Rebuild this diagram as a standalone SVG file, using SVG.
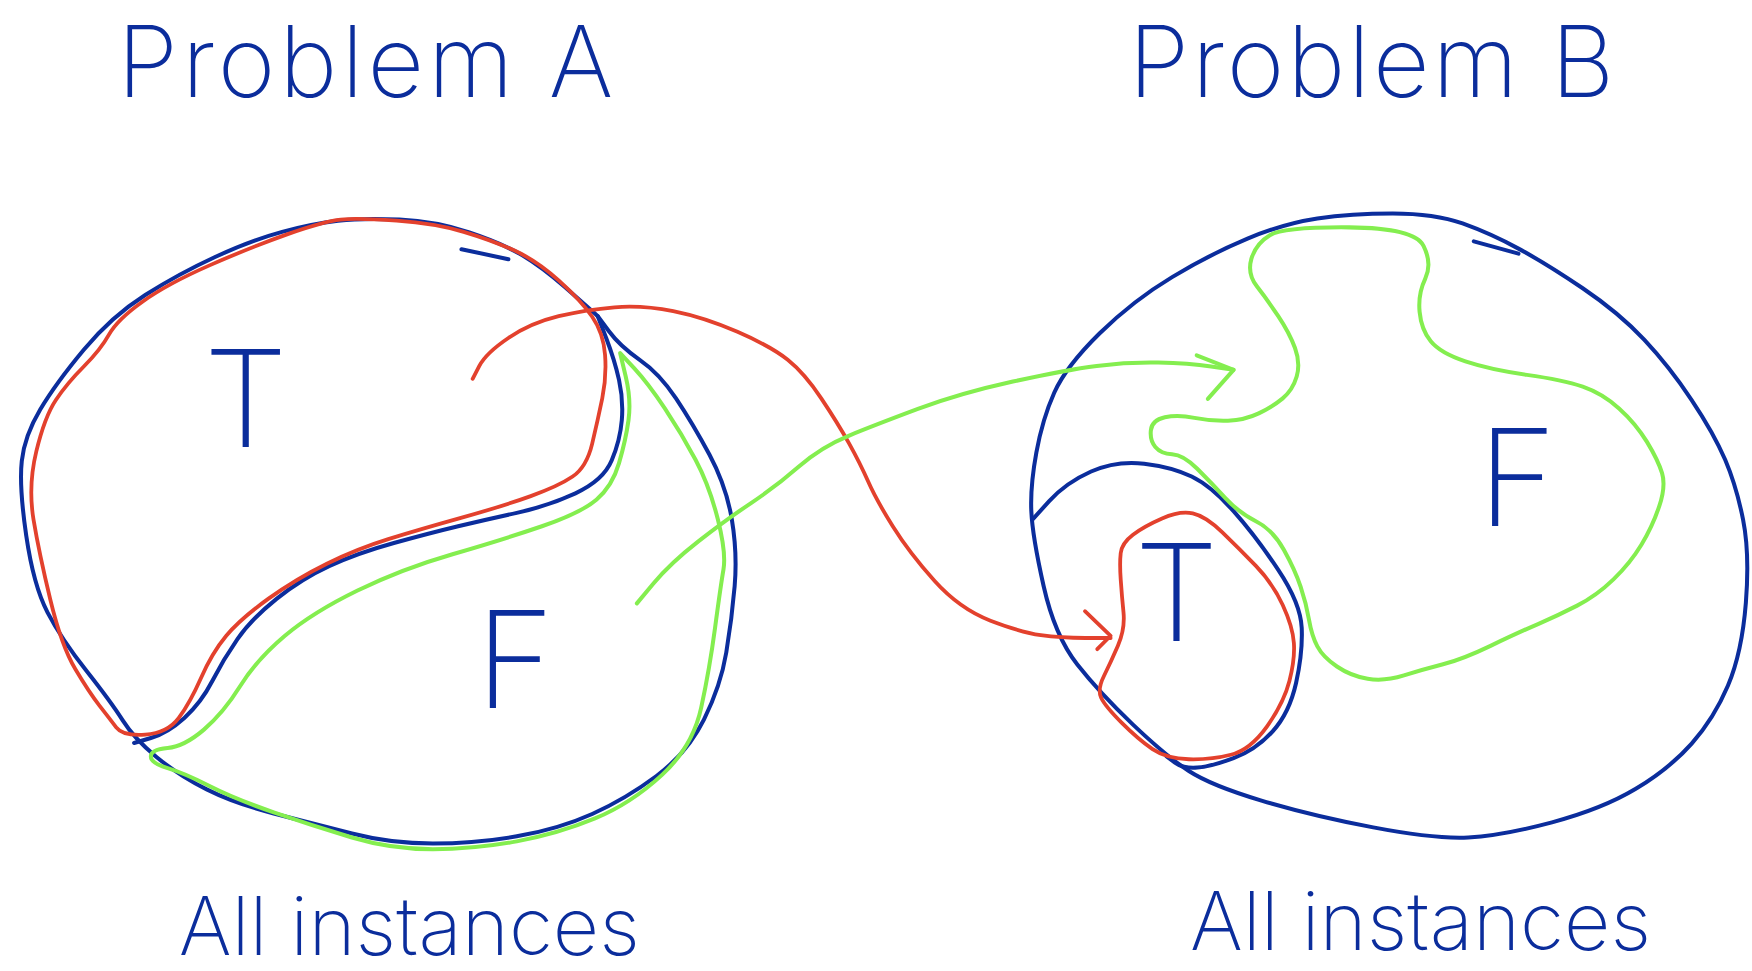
<svg xmlns="http://www.w3.org/2000/svg" width="1752" height="971" viewBox="0 0 1752 971">
<style>
.b{fill:none;stroke:#0b2d9c;stroke-width:3.6;stroke-linejoin:round;stroke-linecap:round}
.r{fill:none;stroke:#e3412d;stroke-width:3.4;stroke-linejoin:round;stroke-linecap:round}
.g{fill:none;stroke:#84ee4f;stroke-width:3.6;stroke-linejoin:round;stroke-linecap:round}
.t{fill:#0b2d9c;font-family:Inter,"Liberation Sans",sans-serif;font-weight:200}
</style>
<rect width="1752" height="971" fill="#fff"/>
<g transform="scale(1.11735)">
<g id="titleA"><text class="t" x="105" y="87" font-size="88" letter-spacing="3.5">Problem A</text></g>
<g id="titleB"><text class="t" x="1010" y="87" font-size="88" letter-spacing="2.5">Problem B</text></g>
<g id="setA">
<path class="b" d="M535,283 L545,296.5 Q555,310 572.5,322 Q590,334 605,356.5 Q620,379 635,407 Q650,435 655,465 Q660,495 657.5,524.5 Q655,554 650,584 Q645,614 630,644 Q615,674 587.5,694.5 Q560,715 530,728.5 Q500,742 462.5,748.5 Q425,755 387.5,755 Q350,755 315,746 Q280,737 245,728 Q210,719 185,706.5 Q160,694 140,677.5 Q120,661 110,645 Q100,629 77.5,600.5 Q55,572 42.5,548 Q30,524 23.5,479.5 Q17,435 19.5,412.5 Q22,390 36,366.5 Q50,343 75,313 Q100,283 130,264 Q160,245 192.5,230 Q225,215 252.5,207.5 Q280,200 302.5,197.5 Q325,195 357.5,196.5 Q390,198 420,208 Q450,218 467.5,228.5 Q485,239 505,256.5 Q525,274 535,283"/>
<path class="b" d="M535,283 L542.5,302.5 Q550,322 554,340 Q558,358 556.5,376 Q555,394 547.5,412 Q540,430 515,441.5 Q490,453 462.5,459 Q435,465 410,471 Q385,477 352.5,486 Q320,495 295,506.5 Q270,518 247.5,536 Q225,554 212.5,572 Q200,590 190,609.5 Q180,629 165,642.5 Q150,656 135,660.5 L120,665"/>
<path class="b" d="M413,223 L455,232"/>
<text class="t" x="160" y="855" font-size="72">All instances</text>
</g>
<g id="trueA">
<path class="r" d="M539,356.5 Q543,337 541.5,317.5 Q540,298 530,283.5 Q520,269 500,251 Q480,233 460,224 Q440,215 415,207.5 Q390,200 355,197.5 Q320,195 305,196.5 Q290,198 257.5,209.5 Q225,221 187.5,237.5 Q150,254 127.5,270 Q105,286 97.5,299.5 Q90,313 75,328 Q60,343 50,358 Q40,373 32.5,404 Q25,435 30,465 Q35,495 45,536.5 Q55,578 67.5,599 Q80,620 89,631.5 Q98,643 104,651 Q110,659 130,657.5 Q150,656 160,642.5 Q170,629 180,606.5 Q190,584 202.5,569 Q215,554 240,536 Q265,518 292.5,504.5 Q320,491 347.5,482.5 Q375,474 412.5,463.5 Q450,453 475,444 Q500,435 512.5,426.5 Q525,418 530,397 Q535,376 539,356.5 Z"/>
<text class="t" x="220" y="400" font-size="120" text-anchor="middle">T</text>
</g>
<g id="falseA">
<path class="g" d="M555,316 L560,337 Q565,358 562.5,376 Q560,394 554,414.5 Q548,435 534,447 Q520,459 485,471 Q450,483 405,496 Q360,509 320,528.5 Q280,548 255,569 Q230,590 215,614 Q200,638 182.5,653 Q165,668 150,669.5 Q135,671 135,677 Q135,683 150,687.5 Q165,692 187.5,703.5 Q210,715 245,727 Q280,739 315,749.5 Q350,760 387.5,760 Q425,760 462.5,753 Q500,746 532.5,732.5 Q565,719 592.5,693.5 Q620,668 627.5,633.5 Q635,599 640,561.5 Q645,524 647.5,509.5 Q650,495 642.5,465 Q635,435 622.5,411.5 Q610,388 595,365.5 Q580,343 567.5,329.5 L555,316 Z"/>
<text class="t" x="461" y="634" font-size="120" text-anchor="middle">F</text>
</g>
<g id="setB">
<path class="b" d="M1179,195.5 Q1209,191 1246.5,191 Q1284,191 1309,200 Q1334,209 1359,222.5 Q1384,236 1416.5,258 Q1449,280 1471.5,304 Q1494,328 1514,358 Q1534,388 1544,411.5 Q1554,435 1560,465 Q1566,495 1562.5,539.5 Q1559,584 1546.5,613.5 Q1534,643 1514,665.5 Q1494,688 1464,706 Q1434,724 1389,736 Q1344,748 1314,749.5 Q1284,751 1229,740.5 Q1174,730 1129,716.5 Q1084,703 1064,690 Q1044,677 1014,648.5 Q984,620 964,594.5 Q944,569 934,524.5 Q924,480 923,457.5 Q922,435 927.5,405 Q933,375 943.5,351.5 Q954,328 984,298.5 Q1014,269 1049,248 Q1084,227 1116.5,213.5 Q1149,200 1179,195.5 Z"/>
<path class="b" d="M1319,216 L1359,227"/>
<path class="b" d="M924,465 L939,448.5 Q954,432 976.5,422 Q999,412 1024,415 Q1049,418 1066.5,426.5 Q1084,435 1104,457.5 Q1124,480 1144,510 Q1164,540 1165,562 Q1166,584 1160,611 Q1154,638 1139,654.5 Q1124,671 1104,678.5 Q1084,686 1071.5,687 Q1059,688 1051.5,682.5 L1044,677"/>
<text class="t" x="1065" y="850" font-size="72">All instances</text>
</g>
<g id="trueB">
<path class="r" d="M1003,495 Q1004,486 1014,478.5 Q1024,471 1040,464 Q1056,457 1067.5,459.5 Q1079,462 1094,476.5 Q1109,491 1124,506.5 Q1139,522 1148,541.5 Q1157,561 1158,575.5 Q1159,590 1154,609.5 Q1149,629 1134,650 Q1119,671 1101.5,675.5 Q1084,680 1064,679.5 Q1044,679 1031.5,670.5 Q1019,662 1004,647 Q989,632 985.5,624.5 Q982,617 988,605 Q994,593 1000.5,578 Q1007,563 1005.5,548 Q1004,533 1003,518.5 Q1002,504 1003,495 Z"/>
<text class="t" x="1053" y="574" font-size="120" text-anchor="middle">T</text>
</g>
<g id="falseB">
<path class="g" d="M1136.5,210.5 Q1149,203 1207.5,203.5 Q1266,204 1274,220 Q1282,236 1275.5,249.5 Q1269,263 1270.5,279 Q1272,295 1280.5,305.5 Q1289,316 1311.5,323.5 Q1334,331 1366.5,335.5 Q1399,340 1416.5,346 Q1434,352 1449,365.5 Q1464,379 1474,395.5 Q1484,412 1487.5,423.5 Q1491,435 1485,453 Q1479,471 1469,487.5 Q1459,504 1444,518.5 Q1429,533 1411.5,542 Q1394,551 1376.5,558.5 Q1359,566 1334,578 Q1309,590 1291.5,594.5 Q1274,599 1256.5,604.5 Q1239,610 1224,607.5 Q1209,605 1196.5,596.5 Q1184,588 1179,578.5 Q1174,569 1171.5,554.5 Q1169,540 1164,525 Q1159,510 1149,492 Q1139,474 1124,466.5 Q1109,459 1096.5,445.5 Q1084,432 1071.5,419.5 Q1059,407 1049,406.5 Q1039,406 1034,400 Q1029,394 1030,385 Q1031,376 1042.5,373.5 Q1054,371 1069,374 Q1084,377 1099,376.5 Q1114,376 1126.5,370 Q1139,364 1148,356.5 Q1157,349 1160.5,337 Q1164,325 1159,311.5 Q1154,298 1144,283 Q1134,268 1125,256.5 Q1116,245 1120,231.5 Q1124,218 1136.5,210.5 Z"/>
<text class="t" x="1358" y="471" font-size="120" text-anchor="middle">F</text>
</g>
<g id="connectors">
<path class="r" d="M423,339 L429,327.5 Q435,316 455,302.5 Q475,289 500,283 Q525,277 550,275 Q575,273 602.5,278.5 Q630,284 660,297 Q690,310 705,322 Q720,334 735,356.5 Q750,379 760,397 Q770,415 777,431 Q784,447 799,471 Q814,495 836.5,520 Q859,545 886.5,555.5 Q914,566 931.5,568.5 Q949,571 971.5,571 L994,571"/>
<path class="r" d="M971,547 L994,569 L982,581"/>
<path class="g" d="M570,540 L585,522 Q600,504 625,484.5 Q650,465 672.5,450 Q695,435 715,417.5 Q735,400 759.5,390 Q784,380 821.5,366 Q859,352 906.5,341.5 Q954,331 981.5,327.5 Q1009,324 1036.5,324.5 Q1064,325 1084,328 L1104,331"/>
<path class="g" d="M1071,318 L1104,331 L1081,357"/>
</g>
</g>
</svg>
